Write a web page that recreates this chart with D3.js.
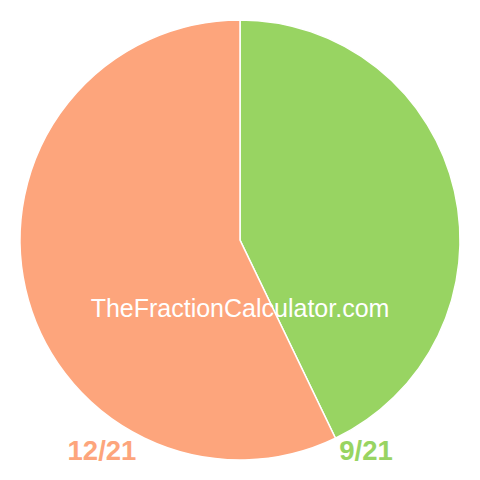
<!DOCTYPE html>
<html>
<head>
<meta charset="utf-8">
<script src="https://cdn.jsdelivr.net/npm/d3@7"></script>
<style>
  body { margin: 0; background: #fff; }
  svg { display: block; }
</style>
</head>
<body>
<svg id="chart" width="480" height="480"></svg>
<script>
// fraction parts, drawn clockwise from 12 o'clock
let labels = ["9/21", "12/21"];
let values = [9, 12];
let colors = ["#98d462", "#fda57c"];

let width = 480, height = 480;
let radius = 220;
let cx = 240, cy = 240;

let svg = d3.select("#chart");

let pie = d3.pie().sort(null).value(d => d);
let arc = d3.arc().innerRadius(0).outerRadius(radius);

let g = svg.append("g")
    .attr("transform", "translate(" + cx + "," + cy + ")");

g.selectAll("path")
    .data(pie(values))
    .enter()
    .append("path")
    .attr("d", arc)
    .attr("fill", (d, i) => colors[i])
    .attr("stroke", "#fff")
    .attr("stroke-width", 1.5);

// watermark
svg.append("text")
    .attr("x", cx)
    .attr("y", 317)
    .attr("text-anchor", "middle")
    .attr("font-family", "Liberation Sans, Arial, sans-serif")
    .attr("font-size", 25)
    .attr("fill", "#fff")
    .text("TheFractionCalculator.com");

// fraction labels under the pie
let labelX = [366, 102];
svg.selectAll("text.lab")
    .data(labels)
    .enter()
    .append("text")
    .attr("class", "lab")
    .attr("x", (d, i) => labelX[i])
    .attr("y", 460)
    .attr("text-anchor", "middle")
    .attr("font-family", "Liberation Sans, Arial, sans-serif")
    .attr("font-weight", "bold")
    .attr("font-size", 27.5)
    .attr("fill", (d, i) => colors[i])
    .text(d => d);
</script>
</body>
</html>
